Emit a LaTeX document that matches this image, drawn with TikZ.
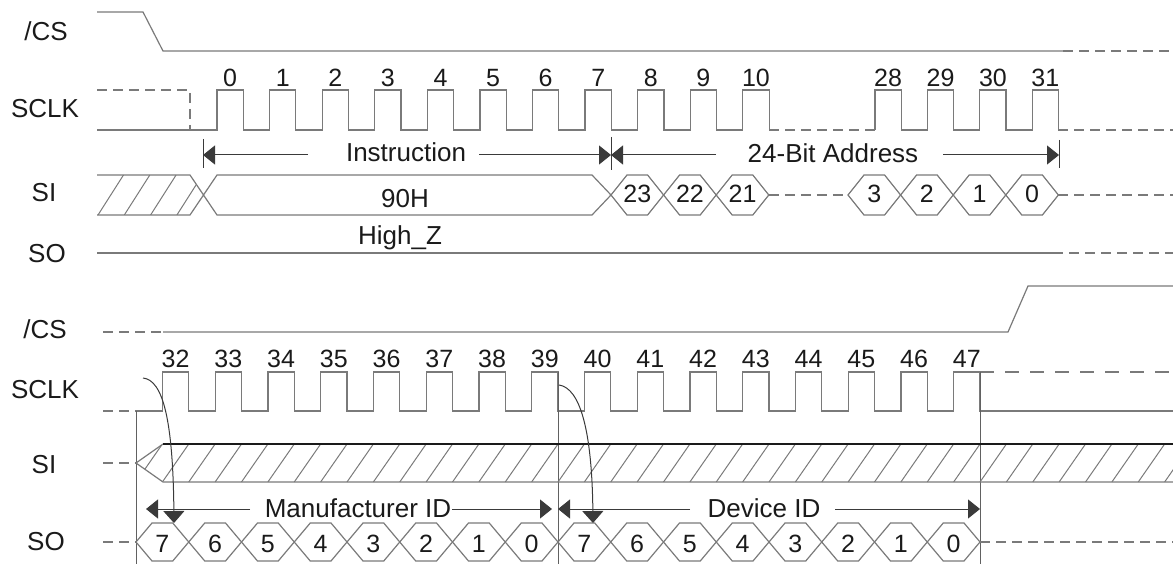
\documentclass[tikz,border=0pt]{standalone}
\usepackage{fontspec}
\setmainfont{Liberation Sans}
\usetikzlibrary{arrows.meta}
\definecolor{sig}{HTML}{7A7A7A}
\definecolor{ink}{HTML}{1A1A1A}
\definecolor{dark}{HTML}{3A3A3A}
\tikzset{
  sigline/.style={draw=sig, line width=1.2pt, line join=miter},
  dashsig/.style={draw=sig, line width=1.2pt, dash pattern=on 10pt off 6pt},
  lbl/.style={font=\fontsize{26}{30}\selectfont, text=ink, anchor=base, inner sep=0pt},
  num/.style={font=\fontsize{25}{30}\selectfont, text=ink, anchor=base, inner sep=0pt},
  dimarrow/.style={draw=dark, line width=1pt, -{Triangle[length=12pt,width=19pt]}},
  downarrow/.style={draw=dark, line width=1pt, -{Triangle[length=12pt,width=21pt]}},
  ticker/.style={draw=dark, line width=1pt},
  vline/.style={draw=dark!80, line width=1pt},
  hatchline/.style={draw=sig, line width=1pt},
}
\begin{document}
\begin{tikzpicture}[x=1pt,y=-1pt]
\useasboundingbox (0,0) rectangle (1173,564);

% ---------------- labels ----------------
\node[lbl] (cs1) at (46,41) {/CS};
\node[lbl] (sclk1) at (45,118) {SCLK};
\node[lbl] (si1) at (44,202) {SI};
\node[lbl] (so1) at (47,262) {SO};
\node[lbl] (cs2) at (45,338) {/CS};
\node[lbl] (sclk2) at (45,398) {SCLK};
\node[lbl] (si2) at (44,473) {SI};
\node[lbl] (so2) at (46,550) {SO};

% ================= TOP =================
% /CS
\draw[sigline] (97,12) -- (143,12) -- (163,51) -- (1063,51);
\draw[dashsig] (1063,51) -- (1173,51);

% SCLK
\draw[dashsig] (97,90) -- (190,90) -- (190,130);
\draw[sigline] (97,130) foreach \n in {0,...,10} { -- ({217+52.58*\n},130) -- ({217+52.58*\n},90) -- ({243.3+52.58*\n},90) -- ({243.3+52.58*\n},130) };
\draw[dashsig] (769.1,130) -- (875,130);
\draw[sigline] (875,130) foreach \n in {0,...,3} { -- ({875+52.4*\n},130) -- ({875+52.4*\n},90) -- ({901.2+52.4*\n},90) -- ({901.2+52.4*\n},130) };
\draw[dashsig] (1058.4,130) -- (1173,130);
\foreach \n in {0,...,10} { \node[num] (ct\n) at ({230.15+52.58*\n},87) {\n}; }
\foreach \n in {28,...,31} { \node[num] (ct\n) at ({888.1+52.4*(\n-28)},87) {\n}; }

% Instruction / address dimension
\coordinate (iL) at (203,155);
\coordinate (iM) at (611,155);
\coordinate (iR) at (1059,155);
\draw[ticker] (203,139) -- (203,168);
\draw[ticker] (611,137) -- (611,170);
\draw[ticker] (1059,140) -- (1059,168);
\node[lbl] (instr) at (406,162) {Instruction};
\node[lbl] (addr) at (833,163) {24-Bit Address};
\coordinate (i1) at (308,155);
\coordinate (i2) at (479,155);
\coordinate (a1) at (716,155);
\coordinate (a2) at (943,155);
\draw[dimarrow] (i1) -- (iL);
\draw[dimarrow] (i2) -- (iM);
\draw[dimarrow] (a1) -- (iM);
\draw[dimarrow] (a2) -- (iR);

% SI
\begin{scope}
  \clip (97,175) -- (190,175) -- (203.5,195) -- (190,215) -- (97,215) -- cycle;
  \foreach \k in {0,...,4} { \draw[hatchline] ({98+26.3*\k},215) -- ({123.5+26.3*\k},175); }
\end{scope}
\draw[sigline] (97,175) -- (190,175) -- (217,215) -- (592,215) -- (611,195) -- (592,175) -- (217,175) -- (190,215) -- (97,215);
\node[lbl] (h90) at (405,208) {90H};
\foreach \a/\t in {611/23, 663.6/22, 716.2/21, 848/3, 900.6/2, 953.2/1, 1005.8/0} {
  \draw[sigline] (\a,195) -- ({\a+16},175) -- ({\a+52.6-16},175) -- ({\a+52.6},195) -- ({\a+52.6-16},215) -- ({\a+16},215) -- cycle;
  \node[num] (sa\t) at ({\a+26.3},203) {\t};
}
\draw[dashsig] (768.8,195) -- (848,195);
\draw[dashsig] (1058.4,195) -- (1173,195);

% SO
\draw[sigline] (97,253) -- (1053,253);
\draw[dashsig] (1053,253) -- (1173,253);
\node[lbl] (hz) at (400,245) {High\_Z};

% ================= BOTTOM =================
% /CS
\draw[dashsig] (103,332) -- (163,332);
\draw[sigline] (163,332) -- (1008,332) -- (1028,286) -- (1173,286);

% SCLK
\draw[dashsig] (103,411) -- (136,411);
\draw[sigline] (136,411) foreach \n in {0,...,15} { -- ({162.4+52.75*\n},411) -- ({162.4+52.75*\n},372) -- ({188.8+52.75*\n},372) -- ({188.8+52.75*\n},411) } -- (1173,411);
\draw[sigline, dash pattern=on 14pt off 11pt] (980,372) -- (1173,372);
\foreach \n in {32,...,47} { \node[num] (cb\n) at ({175.6+52.75*(\n-32)},367) {\n}; }

% vertical reference lines
\draw[vline] (136,411) -- (136,564);
\draw[vline] (558,372) -- (558,564);
\draw[vline] (980,372) -- (980,564);

% SI
\draw[dashsig] (103,463) -- (136,463);
\begin{scope}
  \clip (136,463) -- (163,444) -- (1173,444) -- (1173,482) -- (163,482) -- cycle;
  \foreach \k in {0,...,39} { \draw[hatchline] ({136+26.375*\k},482) -- ({162.4+26.375*\k},444); }
\end{scope}
\draw[sigline] (163,444) -- (136,463) -- (163,482) -- (1173,482);
\draw[draw=ink, line width=1.2pt] (163,444) -- (1173,444);

% Manufacturer / Device ID dimension
\node[lbl] (mid) at (358,517) {Manufacturer ID};
\node[lbl] (did) at (764,517) {Device ID};
\coordinate (m0) at (146,509);
\coordinate (m1) at (250,509);
\coordinate (m2) at (452,509);
\coordinate (m3) at (552,509);
\coordinate (d0) at (558,509);
\coordinate (d1) at (690,509);
\coordinate (d2) at (835,509);
\coordinate (d3) at (980,509);
\draw[dimarrow] (m1) -- (m0);
\draw[dimarrow] (m2) -- (m3);
\draw[dimarrow] (d1) -- (d0);
\draw[dimarrow] (d2) -- (d3);

% SO
\draw[dashsig] (103,542) -- (136,542);
\foreach \v [count=\k from 0] in {7,6,5,4,3,2,1,0,7,6,5,4,3,2,1,0} {
  \pgfmathsetmacro\a{136+52.75*\k}
  \draw[sigline] (\a,542) -- ({\a+16},523) -- ({\a+52.75-16},523) -- ({\a+52.75},542) -- ({\a+52.75-16},561) -- ({\a+16},561) -- cycle;
  \node[num] (sb\k) at ({\a+26.4},552) {\v};
}
\draw[dashsig] (980,542) -- (1173,542);

% curved arrows (clock edge to output)
\coordinate (c1s) at (143,378);
\coordinate (c1e) at (174,523);
\coordinate (c2s) at (559,385);
\coordinate (c2e) at (593,523);
\draw[downarrow] (c1s) .. controls (163,380) and (173,420) .. (c1e);
\draw[downarrow] (c2s) .. controls (580,388) and (592,430) .. (c2e);
\end{tikzpicture}
\end{document}
